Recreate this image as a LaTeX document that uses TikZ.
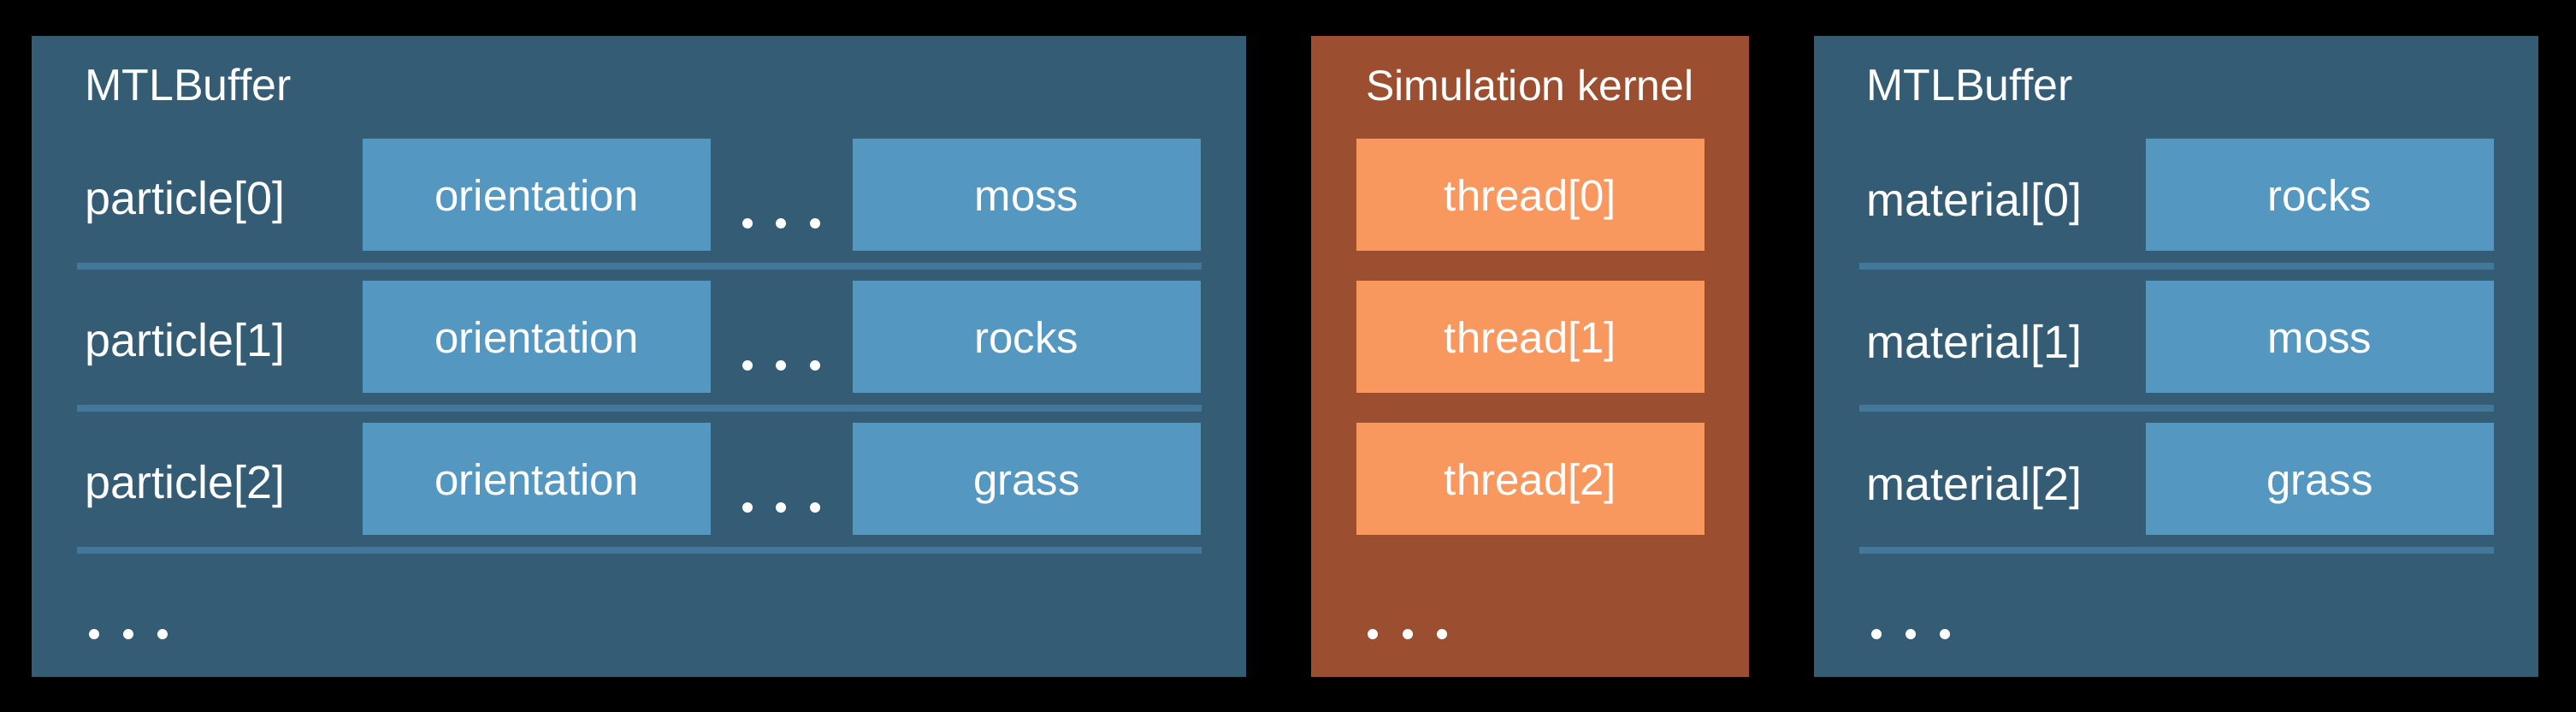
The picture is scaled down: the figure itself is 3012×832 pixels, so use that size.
\documentclass[tikz,border=0pt]{standalone}
\usepackage{fontspec}
\setmainfont{Liberation Sans}
\definecolor{panelblue}{HTML}{345C75}
\definecolor{cellblue}{HTML}{5497C1}
\definecolor{sepblue}{HTML}{44789B}
\definecolor{panelorange}{HTML}{9B4F30}
\definecolor{cellorange}{HTML}{F9985E}
\tikzset{
  bluepanel/.style={fill=panelblue},
  orangepanel/.style={fill=panelorange},
  cellbox/.style={rectangle, fill=cellblue, minimum width=407pt, minimum height=131pt, inner sep=0pt, text=white, text height=37pt, text depth=0pt, font=\fontsize{51}{60}\selectfont},
  threadbox/.style={cellbox, fill=cellorange},
  rowlabel/.style={anchor=base west, inner sep=0pt, text=white, font=\fontsize{54}{60}\selectfont},
  title/.style={anchor=base west, inner sep=0pt, text=white, font=\fontsize{52}{60}\selectfont},
  sepline/.style={fill=sepblue},
  dotmark/.style={fill=white}
}
\begin{document}
\begin{tikzpicture}[x=1pt,y=-1pt,font=\fontsize{50}{60}\selectfont]
\fill[black] (0,0) rectangle (3012,832);
\useasboundingbox (0,0) rectangle (3012,832);
% panels
\fill[bluepanel] (37,42) rectangle (1457,791);
\fill[orangepanel] (1533,42) rectangle (2045,791);
\fill[bluepanel] (2121,42) rectangle (2968,791);
% titles
\node[title] (t1) at (99,118) {MTLBuffer};
\node[title, anchor=base, font=\fontsize{50}{60}\selectfont] (t2) at (1789,118) {Simulation kernel};
\node[title] (t3) at (2182,118) {MTLBuffer};
% left rows
\foreach \i/\m in {0/moss,1/rocks,2/grass}{
  \node[rowlabel] (p\i) at (99,{250+166*\i}) {particle[\i]};
  \node[cellbox] (o\i) at (627.5,{227.5+166*\i}) {orientation};
  \node[cellbox] (m\i) at (1200.5,{227.5+166*\i}) {\m};
  \fill[sepline] (90,{307+166*\i}) rectangle (1405,{315+166*\i});
  \foreach \x in {874,913,953}{\fill[dotmark] (\x,{261+166*\i}) circle (6pt);}
  \node[threadbox] (th\i) at (1789.5,{227.5+166*\i}) {thread[\i]};
}
% right rows
\foreach \i/\m in {0/rocks,1/moss,2/grass}{
  \node[rowlabel] (ml\i) at (2182,{252+166*\i}) {material[\i]};
  \node[cellbox] (mb\i) at (2712.5,{227.5+166*\i}) {\m};
  \fill[sepline] (2174,{307+166*\i}) rectangle (2916,{315+166*\i});
}
% bottom dots
\foreach \x in {110,150,190,1605,1646,1686,2194,2234,2274}{\fill[dotmark] (\x,741) circle (6pt);}
\end{tikzpicture}
\end{document}
